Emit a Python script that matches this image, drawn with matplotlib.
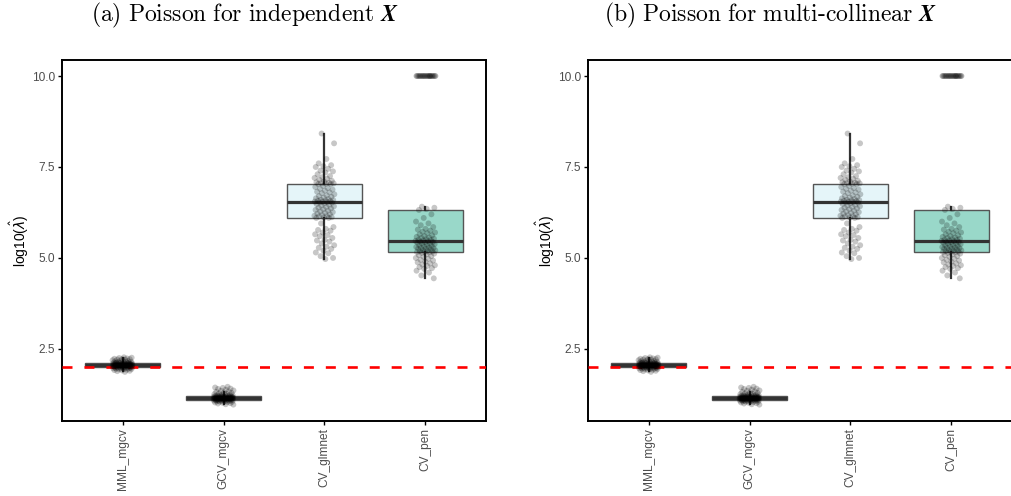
import numpy as np
import matplotlib
matplotlib.use("Agg")
import matplotlib.pyplot as plt

# ---------------- data ----------------
methods = ["MML_mgcv", "GCV_mgcv", "CV_glmnet", "CV_pen"]

mml_vals = [1.87, 1.89, 1.90, 1.91, 1.92, 1.93, 1.94, 1.95, 1.95, 1.96,
            1.96, 1.97, 1.97, 1.98, 1.98, 1.98, 1.99, 1.99, 1.99, 2.00,
            2.00, 2.00, 2.01, 2.01, 2.01, 2.01, 2.02, 2.02, 2.02, 2.02,
            2.03, 2.03, 2.03, 2.03, 2.03, 2.04, 2.04, 2.04, 2.04, 2.04,
            2.04, 2.05, 2.05, 2.05, 2.05, 2.05, 2.05, 2.05, 2.05, 2.06,
            2.06, 2.06, 2.06, 2.06, 2.06, 2.06, 2.07, 2.07, 2.07, 2.07,
            2.07, 2.07, 2.08, 2.08, 2.08, 2.08, 2.08, 2.09, 2.09, 2.09,
            2.09, 2.10, 2.10, 2.10, 2.11, 2.11, 2.11, 2.12, 2.12, 2.13,
            2.13, 2.14, 2.14, 2.15, 2.15, 2.16, 2.17, 2.18, 2.19, 2.20,
            2.21, 2.22, 2.22, 2.23, 2.24, 2.25, 2.26, 2.27, 2.12, 2.10]

gcv_vals = [0.97, 0.98, 1.00, 1.01, 1.02, 1.03, 1.04, 1.05, 1.05, 1.06,
            1.06, 1.07, 1.07, 1.08, 1.08, 1.08, 1.09, 1.09, 1.09, 1.10,
            1.10, 1.10, 1.11, 1.11, 1.11, 1.11, 1.12, 1.12, 1.12, 1.12,
            1.12, 1.13, 1.13, 1.13, 1.13, 1.13, 1.13, 1.14, 1.14, 1.14,
            1.14, 1.14, 1.14, 1.14, 1.15, 1.15, 1.15, 1.15, 1.15, 1.15,
            1.15, 1.15, 1.16, 1.16, 1.16, 1.16, 1.16, 1.16, 1.17, 1.17,
            1.17, 1.17, 1.17, 1.18, 1.18, 1.18, 1.18, 1.19, 1.19, 1.19,
            1.20, 1.20, 1.20, 1.21, 1.21, 1.22, 1.22, 1.23, 1.23, 1.24,
            1.25, 1.26, 1.27, 1.28, 1.29, 1.30, 1.32, 1.33, 1.35, 1.36,
            1.38, 1.40, 1.41, 1.43, 1.44, 1.46, 1.19, 1.17, 1.13, 1.10]

glmnet_vals = [8.42, 8.15, 7.72, 7.60, 7.55, 7.52, 7.50, 7.45, 7.40, 7.38,
               7.35, 7.30, 7.25, 7.22, 7.20, 7.18, 7.15, 7.12, 7.10, 7.08,
               7.07, 7.06, 7.05, 7.04, 7.03,
               7.03, 6.98, 6.95, 6.92, 6.90, 6.88, 6.85, 6.82, 6.80, 6.78,
               6.75, 6.72, 6.70, 6.68, 6.66, 6.64, 6.62, 6.60, 6.59, 6.58,
               6.57, 6.56, 6.55, 6.55, 6.54,
               6.53, 6.52, 6.50, 6.48, 6.46, 6.44, 6.42, 6.40, 6.38, 6.36,
               6.34, 6.32, 6.30, 6.28, 6.26, 6.24, 6.22, 6.20, 6.18, 6.16,
               6.15, 6.14, 6.12, 6.11, 6.10,
               6.10, 5.95, 5.85, 5.80, 5.77, 5.75, 5.70, 5.65, 5.63, 5.60,
               5.55, 5.50, 5.48, 5.45, 5.40, 5.35, 5.31, 5.28, 5.25, 5.20,
               5.15, 5.13, 5.05, 5.00, 4.97]

pen_vals = [10.0] * 22 + [
            6.41, 6.38, 6.35,
            6.32, 6.20, 6.10, 6.00, 5.95, 5.90, 5.85, 5.80, 5.78, 5.75,
            5.72, 5.70, 5.68, 5.65, 5.62, 5.60, 5.58, 5.56, 5.55, 5.53,
            5.52, 5.50, 5.49, 5.48, 5.47,
            5.46, 5.45, 5.44, 5.43, 5.42, 5.40, 5.39, 5.38, 5.36, 5.35,
            5.33, 5.32, 5.30, 5.29, 5.28, 5.27, 5.26, 5.25, 5.24, 5.22,
            5.21, 5.20, 5.19, 5.18, 5.17,
            5.16, 5.15, 5.14, 5.12, 5.10, 5.08, 5.05, 5.03, 5.00, 4.98,
            4.95, 4.93, 4.90, 4.88, 4.85, 4.82, 4.80, 4.78, 4.75, 4.72,
            4.70, 4.65, 4.60, 4.52, 4.44]

true_value = 2.0
yticks = [2.5, 5.0, 7.5, 10.0]
panel_titles = [r"$\mathrm{(a)\ Poisson\ for\ independent}\ \mathbfit{X}$",
                r"$\mathrm{(b)\ Poisson\ for\ multi\text{-}collinear}\ \mathbfit{X}$"]

# ---------------- styling ----------------
box_fills = ["#2CA25F", "#66C2A4", "#E5F5F9", "#99D8C9"]
W, H = 1012, 496
fig = plt.figure(figsize=(W / 100, H / 100), dpi=100)
plt.rcParams['lines.scale_dashes'] = False
plt.rcParams['font.family'] = ['Liberation Sans', 'DejaVu Sans']

panels_left_px = [62, 588]
ax_w_px = 424
ax_top_px, ax_bot_px = 60, 421

data = [mml_vals, gcv_vals, glmnet_vals, pen_vals]


def jitter(n, k):
    phi = 0.6180339887
    return np.array([(((i + 1) * phi + 0.37 * k) % 1.0) * 2 - 1 for i in range(n)]) * 0.1


for p, left_px in enumerate(panels_left_px):
    ax = fig.add_axes([left_px / W, 1 - ax_bot_px / H, ax_w_px / W,
                       (ax_bot_px - ax_top_px) / H])
    pos = np.arange(1, len(methods) + 1)
    bp = ax.boxplot(data, positions=pos, widths=0.75, patch_artist=True,
                    showfliers=False, whis=1.5, showcaps=False,
                    medianprops=dict(color="#333333", linewidth=2.3, solid_capstyle='butt'),
                    whiskerprops=dict(color="#333333", linewidth=1.6),
                    boxprops=dict(edgecolor="#555555", linewidth=1.0),
                    zorder=2)
    for patch, fc in zip(bp['boxes'], box_fills):
        patch.set_facecolor(fc)
    ax.axhline(true_value, color="#FF0000", linewidth=1.9, dashes=(7.2, 8.6), zorder=3)
    for k, vals in enumerate(data):
        v = np.array(vals)
        ax.scatter(pos[k] + jitter(len(v), k), v, s=18, color="black", alpha=0.22,
                   edgecolors="none", zorder=4)

    ax.set_xlim(0.4, 4.6)
    ax.set_ylim(0.52, 10.44)
    ax.set_yticks(yticks)
    ax.set_yticklabels([f"{t:.1f}" for t in yticks])
    ax.set_xticks(pos)
    ax.set_xticklabels(methods, rotation=90)
    ax.tick_params(axis='both', colors="black", labelcolor="#4D4D4D", labelsize=8.6,
                   length=3, width=1.0, pad=2)
    for s in ax.spines.values():
        s.set_linewidth(1.4)
        s.set_color("black")
    ax.set_ylabel(r"log10($\hat{\lambda}$)", fontsize=10, color="black", labelpad=1)

    fig.text((left_px - 62 + 245) / W, 1 - 15 / H, panel_titles[p], ha="center",
             va="center", fontsize=17, math_fontfamily="cm")

fig.savefig("out.png", dpi=100)
